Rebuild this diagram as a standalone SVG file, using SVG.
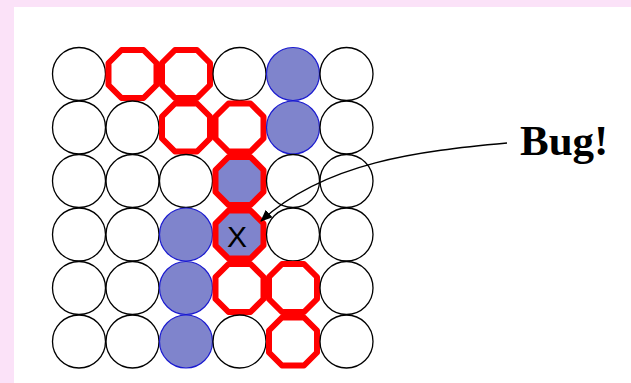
<svg xmlns="http://www.w3.org/2000/svg" width="631" height="383" viewBox="0 0 631 383">
<style>
.c{fill:none;stroke:#000;stroke-width:1.3}
.b{fill:#7f84cc;stroke:#1a1ad0;stroke-width:1.2}
.r{fill:none;stroke:#ff0000;stroke-width:6;stroke-linejoin:round}
.rb{fill:#7f84cc;stroke:#ff0000;stroke-width:6;stroke-linejoin:round}
.lbl{font-family:"Liberation Serif",serif;font-weight:bold;font-size:43px;fill:#000}
.x{font-family:"Liberation Sans",sans-serif;font-size:30px;fill:#000;text-anchor:middle}
</style>
<defs>
<path id="oct" d="M-11,-24 L11,-24 L24,-11 L24,11 L11,24 L-11,24 L-24,11 L-24,-11 Z"/>
<marker id="ah" markerWidth="12" markerHeight="10" refX="11" refY="5" orient="auto" markerUnits="userSpaceOnUse">
<path d="M0,0 L12,5 L0,10 Z" fill="#000"/>
</marker>
</defs>
<rect x="0" y="0" width="631" height="383" fill="#fbe2f8"/>
<rect x="14" y="7" width="617" height="376" fill="#fff"/>
<!-- row 1 -->
<g id="n-1-1"><circle class="c" cx="79" cy="74" r="26.5"/></g>
<g id="n-1-2"><use href="#oct" class="r" x="132.5" y="74"/></g>
<g id="n-1-3"><use href="#oct" class="r" x="186" y="74"/></g>
<g id="n-1-4"><circle class="c" cx="239.5" cy="74" r="26.5"/></g>
<g id="n-1-5"><circle class="b" cx="293" cy="74" r="26.5"/></g>
<g id="n-1-6"><circle class="c" cx="346.5" cy="74" r="26.5"/></g>
<!-- row 2 -->
<g id="n-2-1"><circle class="c" cx="79" cy="127.5" r="26.5"/></g>
<g id="n-2-2"><circle class="c" cx="132.5" cy="127.5" r="26.5"/></g>
<g id="n-2-3"><use href="#oct" class="r" x="186" y="127.5"/></g>
<g id="n-2-4"><use href="#oct" class="r" x="239.5" y="127.5"/></g>
<g id="n-2-5"><circle class="b" cx="293" cy="127.5" r="26.5"/></g>
<g id="n-2-6"><circle class="c" cx="346.5" cy="127.5" r="26.5"/></g>
<!-- row 3 -->
<g id="n-3-1"><circle class="c" cx="79" cy="181" r="26.5"/></g>
<g id="n-3-2"><circle class="c" cx="132.5" cy="181" r="26.5"/></g>
<g id="n-3-3"><circle class="c" cx="186" cy="181" r="26.5"/></g>
<g id="n-3-4"><use href="#oct" class="rb" x="239.5" y="181"/></g>
<g id="n-3-5"><circle class="c" cx="293" cy="181" r="26.5"/></g>
<g id="n-3-6"><circle class="c" cx="346.5" cy="181" r="26.5"/></g>
<!-- row 4 -->
<g id="n-4-1"><circle class="c" cx="79" cy="234.5" r="26.5"/></g>
<g id="n-4-2"><circle class="c" cx="132.5" cy="234.5" r="26.5"/></g>
<g id="n-4-3"><circle class="b" cx="186" cy="234.5" r="26.5"/></g>
<g id="n-4-4"><use href="#oct" class="rb" x="239.5" y="234.5"/><text class="x" x="237" y="247">X</text></g>
<g id="n-4-5"><circle class="c" cx="293" cy="234.5" r="26.5"/></g>
<g id="n-4-6"><circle class="c" cx="346.5" cy="234.5" r="26.5"/></g>
<!-- row 5 -->
<g id="n-5-1"><circle class="c" cx="79" cy="288" r="26.5"/></g>
<g id="n-5-2"><circle class="c" cx="132.5" cy="288" r="26.5"/></g>
<g id="n-5-3"><circle class="b" cx="186" cy="288" r="26.5"/></g>
<g id="n-5-4"><use href="#oct" class="r" x="239.5" y="288"/></g>
<g id="n-5-5"><use href="#oct" class="r" x="293" y="288"/></g>
<g id="n-5-6"><circle class="c" cx="346.5" cy="288" r="26.5"/></g>
<!-- row 6 -->
<g id="n-6-1"><circle class="c" cx="79" cy="341.5" r="26.5"/></g>
<g id="n-6-2"><circle class="c" cx="132.5" cy="341.5" r="26.5"/></g>
<g id="n-6-3"><circle class="b" cx="186" cy="341.5" r="26.5"/></g>
<g id="n-6-4"><circle class="c" cx="239.5" cy="341.5" r="26.5"/></g>
<g id="n-6-5"><use href="#oct" class="r" x="293" y="341.5"/></g>
<g id="n-6-6"><circle class="c" cx="346.5" cy="341.5" r="26.5"/></g>
<!-- label -->
<g id="bug"><text class="lbl" x="520" y="155">Bug!</text></g>
<!-- connectors -->
<g id="connectors">
<path d="M507,143 C420,151 325,162 261,221" fill="none" stroke="#000" stroke-width="1.5" marker-end="url(#ah)"/>
</g>
</svg>
